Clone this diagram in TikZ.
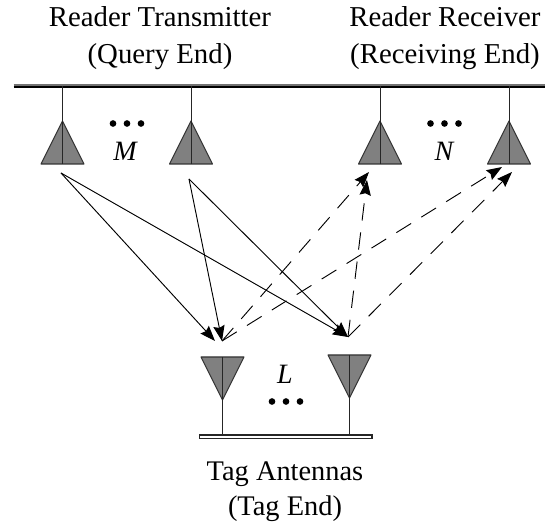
\documentclass[tikz,border=0pt]{standalone}
\usepackage{fontspec}
\setmainfont{Liberation Serif}
\usetikzlibrary{arrows.meta}
\tikzset{
  x=0.75pt,y=-0.75pt,
  lbl/.style={font=\fontsize{21.6pt}{27.5pt}\selectfont,align=center,inner sep=0pt},
  lblb/.style={font=\fontsize{21.3pt}{26pt}\selectfont,align=center,inner sep=0pt},
  var/.style={font=\fontsize{21pt}{25pt}\selectfont\itshape,inner sep=0pt},
  bargrey/.style={draw=black!55,line width=1.1pt},
  barblack/.style={draw=black,line width=0.8pt},
  tagbar/.style={draw=black!85,fill=white,line width=0.8pt},
  ant/.style={draw=black!80,fill=black!50,line width=0.8pt,line join=round},
  feed/.style={draw=black!85,line width=0.75pt},
  dotm/.style={fill=black,circle,inner sep=0pt,minimum size=5pt},
  sig/.style={draw=black,line width=0.7pt,-{Stealth[length=11.5pt,width=8.5pt,inset=1.5pt]}},
  dsig/.style={sig,dash pattern=on 13pt off 9pt},
}
\begin{document}
\begin{tikzpicture}
\useasboundingbox (0,0) rectangle (554,523);
\node[lbl] (tx) at (160,38) {Reader Transmitter\\(Query End)};
\node[lbl] (rx) at (445,38) {Reader Receiver\\(Receiving End)};
\node[lblb] (tag) at (285,492) {Tag Antennas\\(Tag End)};
\draw[bargrey] (13.5,85) -- (544.5,85);
\draw[barblack] (13.5,87) -- (544.5,87);
\path[tagbar] (199.5,435) rectangle (372,438.5);
\foreach \c in {62.5,191,380,509}{
  \draw[feed] (\c,86) -- (\c,121);
  \path[ant] (\c,121) -- (\c-21.5,164) -- (\c+21.5,164) -- cycle;
  \draw[feed] (\c,121) -- (\c,164);
}
\foreach \c/\t in {222.5/357,349.5/355}{
  \path[ant] (\c,\t+43) -- (\c-21.5,\t) -- (\c+21.5,\t) -- cycle;
  \draw[feed] (\c,\t) -- (\c,435);
}
\foreach \x in {113,127,141}{\node[dotm] at (\x,123.5) {};}
\foreach \x in {430.5,444.5,458.5}{\node[dotm] at (\x,123.5) {};}
\foreach \x in {272,286,300}{\node[dotm] at (\x,401.5) {};}
\node[var] (M) at (125,151) {M};
\node[var] (N) at (444,151) {N};
\node[var] (L) at (285,374) {L};
\coordinate (s1) at (61,173);
\coordinate (s2) at (189,179);
\coordinate (t1a) at (215,341);
\coordinate (t1b) at (222,341);
\coordinate (t2) at (348,337);
\coordinate (r1) at (369,172);
\coordinate (r1b) at (367,180);
\coordinate (r2) at (502,167);
\coordinate (r2b) at (512,172);
\draw[sig] (s1) -- (t1a);
\draw[sig] (s1) -- (t2);
\draw[sig] (s2) -- (t1b);
\draw[sig] (s2) -- (t2);
\draw[dsig] (t1b) -- (r1);
\draw[dsig] (t1b) -- (r2);
\draw[dsig] (t2) -- (r1b);
\draw[dsig] (t2) -- (r2b);
\end{tikzpicture}
\end{document}
